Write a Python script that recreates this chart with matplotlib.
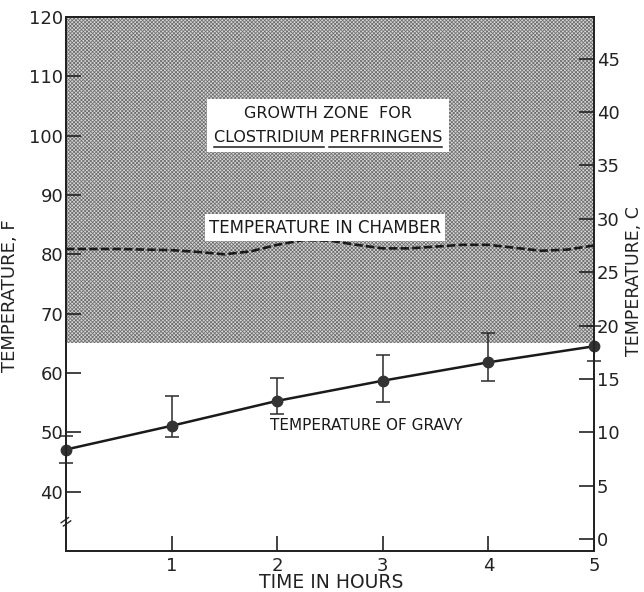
import matplotlib
matplotlib.use("Agg")
import matplotlib.pyplot as plt
from matplotlib.lines import Line2D

plt.rcParams['font.family'] = ['DejaVu Sans']
plt.rcParams['hatch.linewidth'] = 0.55

# ---- data ----
gravy_hours = [0, 1, 2, 3, 4, 5]
gravy_temp_f = [47.1, 51.1, 55.3, 58.7, 61.8, 64.5]
gravy_err_low = [44.9, 49.2, 53.1, 55.1, 58.7, 62.0]
gravy_err_high = [49.3, 56.2, 59.2, 63.0, 66.8, 67.9]

chamber_hours = [0, 0.25, 0.5, 0.75, 1.0, 1.25, 1.5, 1.75, 2.0, 2.25, 2.5,
                 2.75, 3.0, 3.25, 3.5, 3.75, 4.0, 4.25, 4.5, 4.75, 5.0]
chamber_temp_f = [80.9, 80.9, 80.9, 80.8, 80.7, 80.4, 80.0, 80.5, 81.6, 82.4, 82.3,
                  81.6, 81.0, 81.0, 81.3, 81.6, 81.6, 81.1, 80.6, 80.8, 81.5]

growth_zone_f = [65, 120]
x_ticks = [1, 2, 3, 4, 5]
f_ticks = [40, 50, 60, 70, 80, 90, 100, 110, 120]
c_ticks = [0, 5, 10, 15, 20, 25, 30, 35, 40, 45]
f_limits = [30, 120]
x_limits = [0, 5]
break_f = 35

fig = plt.figure(figsize=(6.44, 5.92), dpi=100)
ax = fig.add_axes([0.1025, 0.0693, 0.8199, 0.902])

ax.set_xlim(*x_limits)
ax.set_ylim(*f_limits)

# growth zone shading
ax.axhspan(growth_zone_f[0], growth_zone_f[1], facecolor='#d6d6d6', edgecolor='#6e6e6e',
           hatch='xxxxxxxxx', lw=0, zorder=0)

# chamber temperature
ax.plot(chamber_hours, chamber_temp_f, color='#1a1a1a', lw=1.9,
        linestyle=(0, (3.2, 1.2)), zorder=3)

# gravy temperature
yerr = [[m - lo for m, lo in zip(gravy_temp_f, gravy_err_low)],
        [hi - m for m, hi in zip(gravy_temp_f, gravy_err_high)]]
ax.errorbar(gravy_hours, gravy_temp_f, yerr=yerr, fmt='none', ecolor='#2a2a2a',
            elinewidth=1.1, capsize=5, capthick=1.1, zorder=4, clip_on=False)
ax.plot(gravy_hours, gravy_temp_f, color='#1a1a1a', lw=1.8, zorder=5, clip_on=False)
ax.plot(gravy_hours, gravy_temp_f, 'o', color='#333333', ms=7.5, zorder=6, clip_on=False)

# axes styling
for s in ax.spines.values():
    s.set_linewidth(1.3)
    s.set_color('#222222')

ax.set_xticks(x_ticks)
ax.set_xticklabels([str(t) for t in x_ticks])
ax.set_yticks(f_ticks)
ax.set_yticklabels([str(t) for t in f_ticks])
ax.tick_params(axis='both', direction='in', length=11, width=1.2, colors='#222222',
               labelsize=13)
ax.tick_params(axis='y', pad=2)
ax.tick_params(axis='x', pad=4)

ax.set_ylabel('TEMPERATURE, F', fontsize=13, color='#222222')
ax.yaxis.set_label_coords(-0.089, 0.479)
ax.set_xlabel('TIME IN HOURS', fontsize=13.5, color='#222222')
ax.xaxis.set_label_coords(0.503, -0.041)

# Celsius axis
ax2 = ax.twinx()
ax2.set_ylim((f_limits[0] - 32) * 5 / 9, (f_limits[1] - 32) * 5 / 9)
ax2.set_yticks(c_ticks)
ax2.set_yticklabels([str(t) for t in c_ticks])
ax2.tick_params(axis='y', direction='in', length=11, width=1.2, colors='#222222',
                labelsize=13, pad=2)
for s in ax2.spines.values():
    s.set_linewidth(1.3)
    s.set_color('#222222')
ax2.set_ylabel('TEMPERATURE, C', fontsize=12.5, color='#222222', rotation=90)
ax2.yaxis.set_label_coords(1.0585, 0.506)

# axis break mark
ax.text(0, break_f, '=', rotation=35, ha='center', va='center', fontsize=12,
        color='#222222', zorder=7, clip_on=False)

# annotations
zone_txt = ax.text(2.48, 101.7, 'GROWTH ZONE  FOR\nCLOSTRIDIUM PERFRINGENS',
                   ha='center', va='center', fontsize=11.5, color='#1a1a1a',
                   linespacing=1.7, multialignment='center',
                   bbox=dict(facecolor='white', edgecolor='none', pad=5), zorder=8)
ax.text(2.45, 84.5, 'TEMPERATURE IN CHAMBER', ha='center', va='center', fontsize=12,
        color='#1a1a1a', bbox=dict(facecolor='white', edgecolor='none', pad=3), zorder=8)
ax.text(2.84, 51.1, 'TEMPERATURE OF GRAVY', ha='center', va='center', fontsize=11,
        color='#1a1a1a', zorder=8)

# underline the organism name
fig.canvas.draw()
renderer = fig.canvas.get_renderer()
fp = zone_txt.get_fontproperties()
def width_of(s):
    w, h, d = renderer.get_text_width_height_descent(s, fp, ismath=False)
    return w, d
bb = zone_txt.get_window_extent(renderer)
cx = (bb.x0 + bb.x1) / 2
wfull, desc = width_of('CLOSTRIDIUM PERFRINGENS')
wc, _ = width_of('CLOSTRIDIUM')
wp, _ = width_of('PERFRINGENS')
left = cx - wfull / 2
uy = bb.y0 + desc - 2.5
inv = fig.transFigure.inverted()
for x0, x1 in [(left, left + wc), (left + wfull - wp, left + wfull)]:
    p0 = inv.transform((x0, uy))
    p1 = inv.transform((x1, uy))
    fig.add_artist(Line2D([p0[0], p1[0]], [p0[1], p1[1]], color='#1a1a1a', lw=1.1,
                          transform=fig.transFigure, zorder=10))

fig.savefig('out.png', dpi=100)
